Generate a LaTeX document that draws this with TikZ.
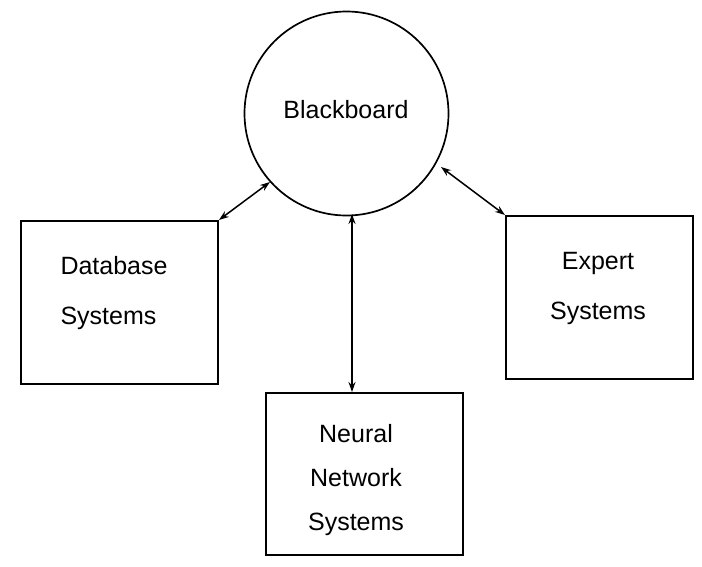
\documentclass[tikz,border=0pt]{standalone}
\usepackage{fontspec}
\setmainfont{Liberation Sans}
\usetikzlibrary{arrows.meta}
\begin{document}
\begin{tikzpicture}[x=1pt,y=-1pt,
  box/.style={draw,line width=1.9pt,anchor=north west,inner sep=0pt},
  lbl/.style={font=\fontsize{25}{50}\selectfont,align=center},
  conn/.style={line width=1.5pt,{Stealth[length=10pt,width=7pt]}-{Stealth[length=10pt,width=7pt]}}]
\useasboundingbox (0,0) rectangle (702,566);
\node[draw,circle,line width=1.7pt,minimum size=204pt,inner sep=0pt] (bb) at (346.5,113.5) {};
\node[lbl] (bbt) at (346,110) {Blackboard};
\node[box,minimum width=197pt,minimum height=163pt] (db) at (20,220) {};
\node[lbl,align=left,anchor=west] (dbt) at (57,293) {Database\\Systems};
\node[box,minimum width=187pt,minimum height=163pt] (ex) at (505,215) {};
\node[lbl] (ext) at (598,288) {Expert\\Systems};
\node[box,minimum width=197pt,minimum height=162pt] (nn) at (265,392) {};
\node[lbl,font=\fontsize{25}{44}\selectfont] (nnt) at (356,480) {Neural\\Network\\Systems};
\coordinate (c1) at (270,182);
\coordinate (c2) at (441,167);
\coordinate (c3) at (352,214);
\coordinate (n1) at (352,392);
\draw[conn] (db.north east) -- (c1);
\draw[conn] (c2) -- (ex.north west);
\draw[conn] (c3) -- (n1);
\end{tikzpicture}
\end{document}
